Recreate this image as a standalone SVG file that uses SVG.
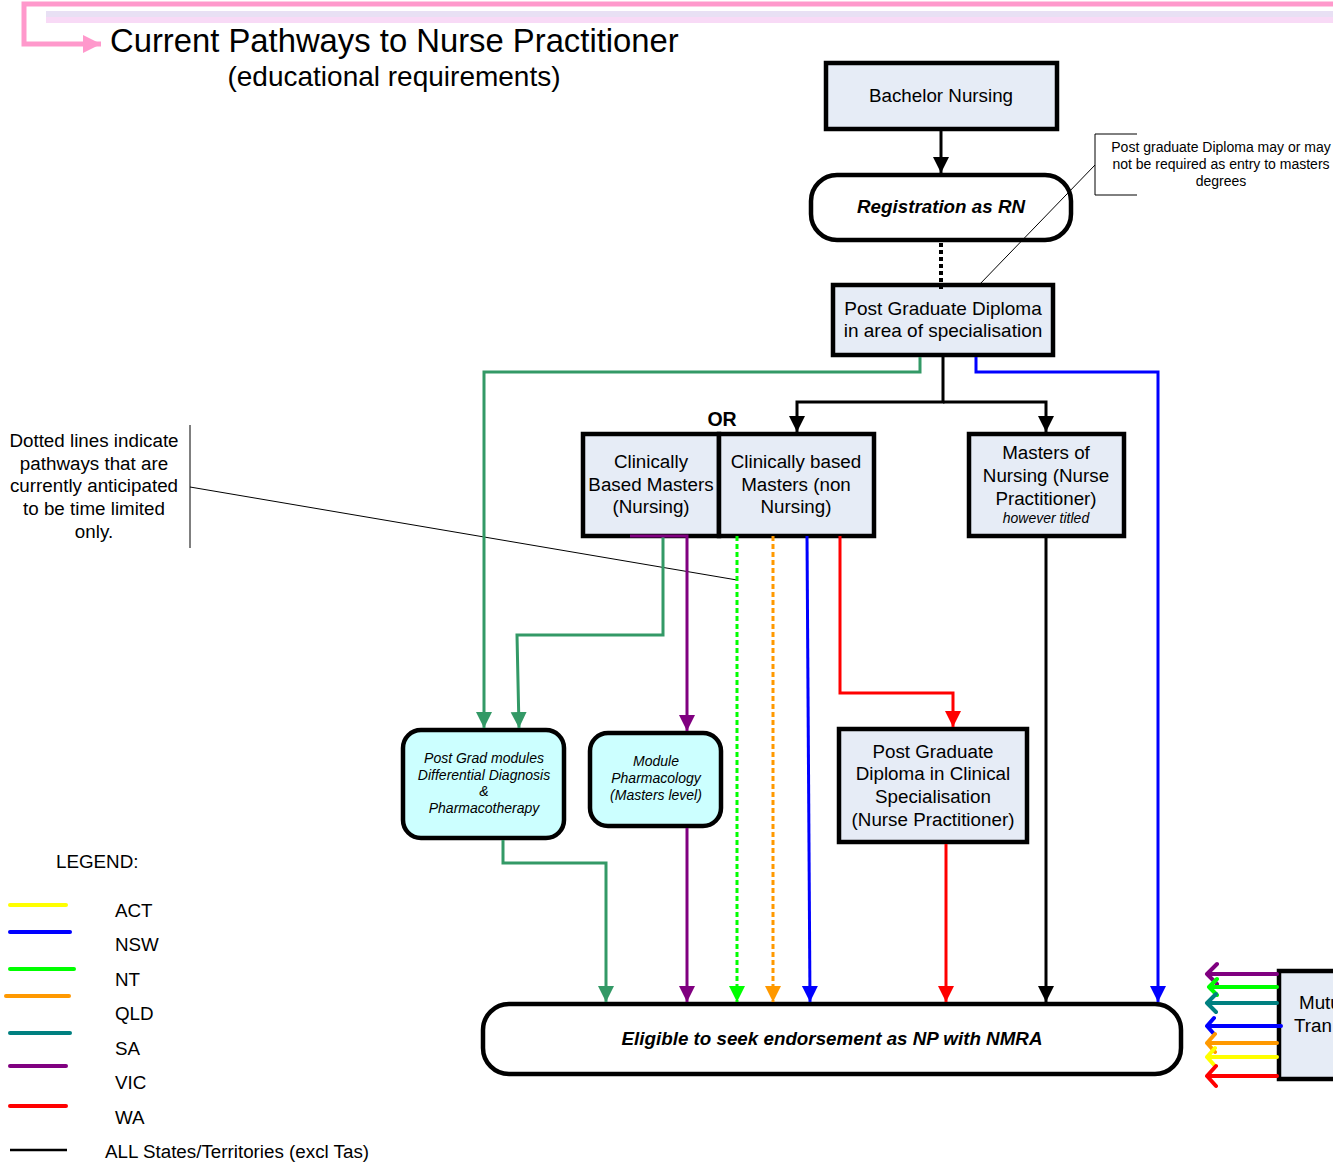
<svg xmlns="http://www.w3.org/2000/svg" width="1333" height="1163" viewBox="0 0 1333 1163">
  <style>
    text { font-family: "Liberation Sans", Arial, sans-serif; fill: #000; }
    .c { text-anchor: middle; }
    .box { fill: #e6ecf6; stroke: #000; stroke-width: 4.5; }
    .rbox { fill: #fff; stroke: #000; stroke-width: 4.5; }
    .cyan { fill: #ccffff; stroke: #000; stroke-width: 4.5; }
    .t18 { font-size: 18.8px; }
    .t13 { font-size: 14px; font-style: italic; }
    .bi { font-size: 18.8px; font-weight: bold; font-style: italic; }
    .ln { fill: none; stroke-width: 3; stroke-linejoin: miter; }
    .thin { fill: none; stroke: #000; stroke-width: 1; }
    .leg { stroke-width: 4; stroke-linecap: round; }
    .back { fill: none; stroke-width: 4; stroke-linecap: round; stroke-linejoin: round; }
  </style>
  <defs>
    <marker id="aK" markerUnits="userSpaceOnUse" markerWidth="18" markerHeight="18" refX="16" refY="8" orient="auto"><path d="M0,0 L16,8 L0,16 z" fill="#000"/></marker>
    <marker id="aG" markerUnits="userSpaceOnUse" markerWidth="18" markerHeight="18" refX="16" refY="8" orient="auto"><path d="M0,0 L16,8 L0,16 z" fill="#339966"/></marker>
    <marker id="aP" markerUnits="userSpaceOnUse" markerWidth="18" markerHeight="18" refX="16" refY="8" orient="auto"><path d="M0,0 L16,8 L0,16 z" fill="#800080"/></marker>
    <marker id="aN" markerUnits="userSpaceOnUse" markerWidth="18" markerHeight="18" refX="16" refY="8" orient="auto"><path d="M0,0 L16,8 L0,16 z" fill="#00ff00"/></marker>
    <marker id="aO" markerUnits="userSpaceOnUse" markerWidth="18" markerHeight="18" refX="16" refY="8" orient="auto"><path d="M0,0 L16,8 L0,16 z" fill="#ff9900"/></marker>
    <marker id="aB" markerUnits="userSpaceOnUse" markerWidth="18" markerHeight="18" refX="16" refY="8" orient="auto"><path d="M0,0 L16,8 L0,16 z" fill="#0000ff"/></marker>
    <marker id="aR" markerUnits="userSpaceOnUse" markerWidth="18" markerHeight="18" refX="16" refY="8" orient="auto"><path d="M0,0 L16,8 L0,16 z" fill="#ff0000"/></marker>
    <marker id="aPink" markerUnits="userSpaceOnUse" markerWidth="20" markerHeight="20" refX="18" refY="9" orient="auto"><path d="M0,0 L18,9 L0,18 z" fill="#ff99cc"/></marker>
  </defs>

  <!-- heading bars and title -->
  <g id="title">
    <rect x="46" y="11" width="1287" height="6" fill="#e8e0f4"/>
    <rect x="46" y="17" width="1287" height="6" fill="#f8daf6"/>
    <path d="M1333,4 H24 V44 H101" fill="none" stroke="#ff99cc" stroke-width="5" marker-end="url(#aPink)"/>
    <text x="110" y="52" style="font-size:32.8px">Current Pathways to Nurse Practitioner</text>
    <text x="394" y="86" class="c" style="font-size:28px">(educational requirements)</text>
  </g>

  <g id="bachelor">
    <rect x="826" y="63" width="231" height="66" class="box"/>
    <text x="941" y="102" class="c t18">Bachelor Nursing</text>
  </g>

  <g id="registration">
    <rect x="811" y="175" width="260" height="65" rx="26" class="rbox"/>
    <text x="941" y="213" class="c bi">Registration as RN</text>
  </g>

  <g id="pgdip">
    <rect x="833" y="285" width="220" height="70" class="box"/>
    <text x="943" y="315" class="c" style="font-size:19px">Post Graduate Diploma</text>
    <text x="943" y="337" class="c" style="font-size:19px">in area of specialisation</text>
  </g>

  <g id="pgdip-note">
    <path d="M1137,134 H1095 V195 H1137" class="thin"/>
    <line x1="1095" y1="165" x2="979" y2="285" class="thin"/>
    <text x="1221" y="152" class="c" style="font-size:14px">Post graduate Diploma may or may</text>
    <text x="1221" y="169" class="c" style="font-size:14px">not be required as entry to masters</text>
    <text x="1221" y="186" class="c" style="font-size:14px">degrees</text>
  </g>

  <g id="or-label">
    <text x="722" y="426" class="c" style="font-size:19.5px;font-weight:bold">OR</text>
  </g>

  <g id="masters-nursing">
    <rect x="583" y="434" width="136" height="102" class="box"/>
    <text x="651" y="468" class="c t18">Clinically</text>
    <text x="651" y="491" class="c t18">Based Masters</text>
    <text x="651" y="513" class="c t18">(Nursing)</text>
  </g>

  <g id="masters-non-nursing">
    <rect x="719" y="434" width="155" height="102" class="box"/>
    <text x="796" y="468" class="c t18">Clinically based</text>
    <text x="796" y="491" class="c t18">Masters (non</text>
    <text x="796" y="513" class="c t18">Nursing)</text>
  </g>

  <g id="masters-np">
    <rect x="969" y="434" width="155" height="102" class="box"/>
    <text x="1046" y="459" class="c t18">Masters of</text>
    <text x="1046" y="482" class="c t18">Nursing (Nurse</text>
    <text x="1046" y="505" class="c t18">Practitioner)</text>
    <text x="1046" y="523" class="c t13">however titled</text>
  </g>

  <g id="dotted-note">
    <text x="94" y="447" class="c t18">Dotted lines indicate</text>
    <text x="94" y="470" class="c t18">pathways that are</text>
    <text x="94" y="492" class="c t18">currently anticipated</text>
    <text x="94" y="515" class="c t18">to be time limited</text>
    <text x="94" y="538" class="c t18">only.</text>
    <line x1="190" y1="425" x2="190" y2="548" class="thin"/>
    <line x1="190" y1="487" x2="737" y2="580" class="thin"/>
  </g>

  <g id="pg-modules">
    <rect x="403" y="730" width="161" height="108" rx="18" class="cyan"/>
    <text x="484" y="763" class="c t13">Post Grad modules</text>
    <text x="484" y="780" class="c t13">Differential Diagnosis</text>
    <text x="484" y="796" class="c t13">&amp;</text>
    <text x="484" y="813" class="c t13">Pharmacotherapy</text>
  </g>

  <g id="module-pharm">
    <rect x="590" y="733" width="131" height="93" rx="18" class="cyan"/>
    <text x="656" y="766" class="c t13">Module</text>
    <text x="656" y="783" class="c t13">Pharmacology</text>
    <text x="656" y="800" class="c t13">(Masters level)</text>
  </g>

  <g id="pgdip-np">
    <rect x="839" y="729" width="188" height="113" class="box"/>
    <text x="933" y="758" class="c t18">Post Graduate</text>
    <text x="933" y="780" class="c t18">Diploma in Clinical</text>
    <text x="933" y="803" class="c t18">Specialisation</text>
    <text x="933" y="826" class="c t18">(Nurse Practitioner)</text>
  </g>

  <g id="eligible">
    <rect x="483" y="1004" width="698" height="70" rx="26" class="rbox"/>
    <text x="832" y="1045" class="c bi">Eligible to seek endorsement as NP with NMRA</text>
  </g>

  <g id="mutual">
    <rect x="1279" y="971" width="70" height="108" class="box"/>
    <text x="1299" y="1009" class="t18">Mutu</text>
    <text x="1294" y="1032" class="t18">Tran</text>
  </g>

  <!-- connectors, drawn over the box borders -->
  <g id="connectors">
    <!-- all states -->
    <line x1="941" y1="131" x2="941" y2="173" class="ln" stroke="#000" marker-end="url(#aK)"/>
    <line x1="941" y1="243" x2="941" y2="290" fill="none" stroke="#000" stroke-width="4" stroke-dasharray="4,3"/>
    <path d="M943,357 V402 H797 V432" class="ln" stroke="#000" marker-end="url(#aK)"/>
    <path d="M943,402 H1046 V432" class="ln" stroke="#000" marker-end="url(#aK)"/>
    <line x1="1046" y1="538" x2="1046" y2="1002" class="ln" stroke="#000" marker-end="url(#aK)"/>
    <!-- SA -->
    <path d="M920,357 V372 H484 V728" class="ln" stroke="#339966" marker-end="url(#aG)"/>
    <path d="M663,536 V635 H517 L519,728" class="ln" stroke="#339966" marker-end="url(#aG)"/>
    <path d="M503,840 V863 H606 V1002" class="ln" stroke="#339966" marker-end="url(#aG)"/>
    <!-- VIC -->
    <path d="M630,536 H687 V731" class="ln" stroke="#800080" marker-end="url(#aP)"/>
    <line x1="687" y1="828" x2="687" y2="1002" class="ln" stroke="#800080" marker-end="url(#aP)"/>
    <!-- NT (time limited) -->
    <line x1="737" y1="536" x2="737" y2="1002" class="ln" stroke="#00ff00" stroke-dasharray="5,3" marker-end="url(#aN)"/>
    <!-- QLD (time limited) -->
    <line x1="773" y1="536" x2="773" y2="1002" class="ln" stroke="#ff9900" stroke-dasharray="5,3" marker-end="url(#aO)"/>
    <!-- NSW -->
    <line x1="807" y1="536" x2="810" y2="1002" class="ln" stroke="#0000ff" marker-end="url(#aB)"/>
    <path d="M976,357 V372 H1158 V1002" class="ln" stroke="#0000ff" marker-end="url(#aB)"/>
    <!-- WA -->
    <path d="M840,536 V693 H953 V727" class="ln" stroke="#ff0000" marker-end="url(#aR)"/>
    <line x1="946" y1="844" x2="946" y2="1002" class="ln" stroke="#ff0000" marker-end="url(#aR)"/>

    <!-- return paths from the right -->
    <path d="M1277,974 H1207 M1217,964 L1207,974 L1217,984" class="back" stroke="#800080"/>
    <path d="M1277,987 H1209 M1217,979 L1209,987 L1217,995" class="back" stroke="#00ff00"/>
    <path d="M1277,1003 H1207 M1216,994 L1207,1003 L1216,1012" class="back" stroke="#008080"/>
    <path d="M1281,1026 H1207 M1214,1018 L1207,1026 L1214,1034" class="back" stroke="#0000ff" stroke-width="2"/>
    <path d="M1277,1043 H1207 M1215,1034 L1207,1043 L1215,1052" class="back" stroke="#ff9900"/>
    <path d="M1277,1057 H1207 M1215,1048 L1207,1057 L1215,1066" class="back" stroke="#ffff00"/>
    <path d="M1277,1076 H1207 M1216,1066 L1207,1076 L1216,1086" class="back" stroke="#ff0000"/>
  </g>

  <g id="legend">
    <text x="56" y="868" class="t18">LEGEND:</text>
    <line x1="10" y1="905" x2="66" y2="905" class="leg" stroke="#ffff00"/>
    <line x1="10" y1="932" x2="70" y2="932" class="leg" stroke="#0000ff"/>
    <line x1="10" y1="969" x2="74" y2="969" class="leg" stroke="#00ff00"/>
    <line x1="6" y1="996" x2="69" y2="996" class="leg" stroke="#ff9900"/>
    <line x1="10" y1="1033" x2="70" y2="1033" class="leg" stroke="#008080"/>
    <line x1="10" y1="1066" x2="66" y2="1066" class="leg" stroke="#800080"/>
    <line x1="10" y1="1106" x2="66" y2="1106" class="leg" stroke="#ff0000"/>
    <line x1="10" y1="1150" x2="67" y2="1150" stroke="#000" stroke-width="2.5"/>
    <text x="115" y="917" class="t18">ACT</text>
    <text x="115" y="951" class="t18">NSW</text>
    <text x="115" y="986" class="t18">NT</text>
    <text x="115" y="1020" class="t18">QLD</text>
    <text x="115" y="1055" class="t18">SA</text>
    <text x="115" y="1089" class="t18">VIC</text>
    <text x="115" y="1124" class="t18">WA</text>
    <text x="105" y="1158" class="t18">ALL States/Territories (excl Tas)</text>
  </g>
</svg>
